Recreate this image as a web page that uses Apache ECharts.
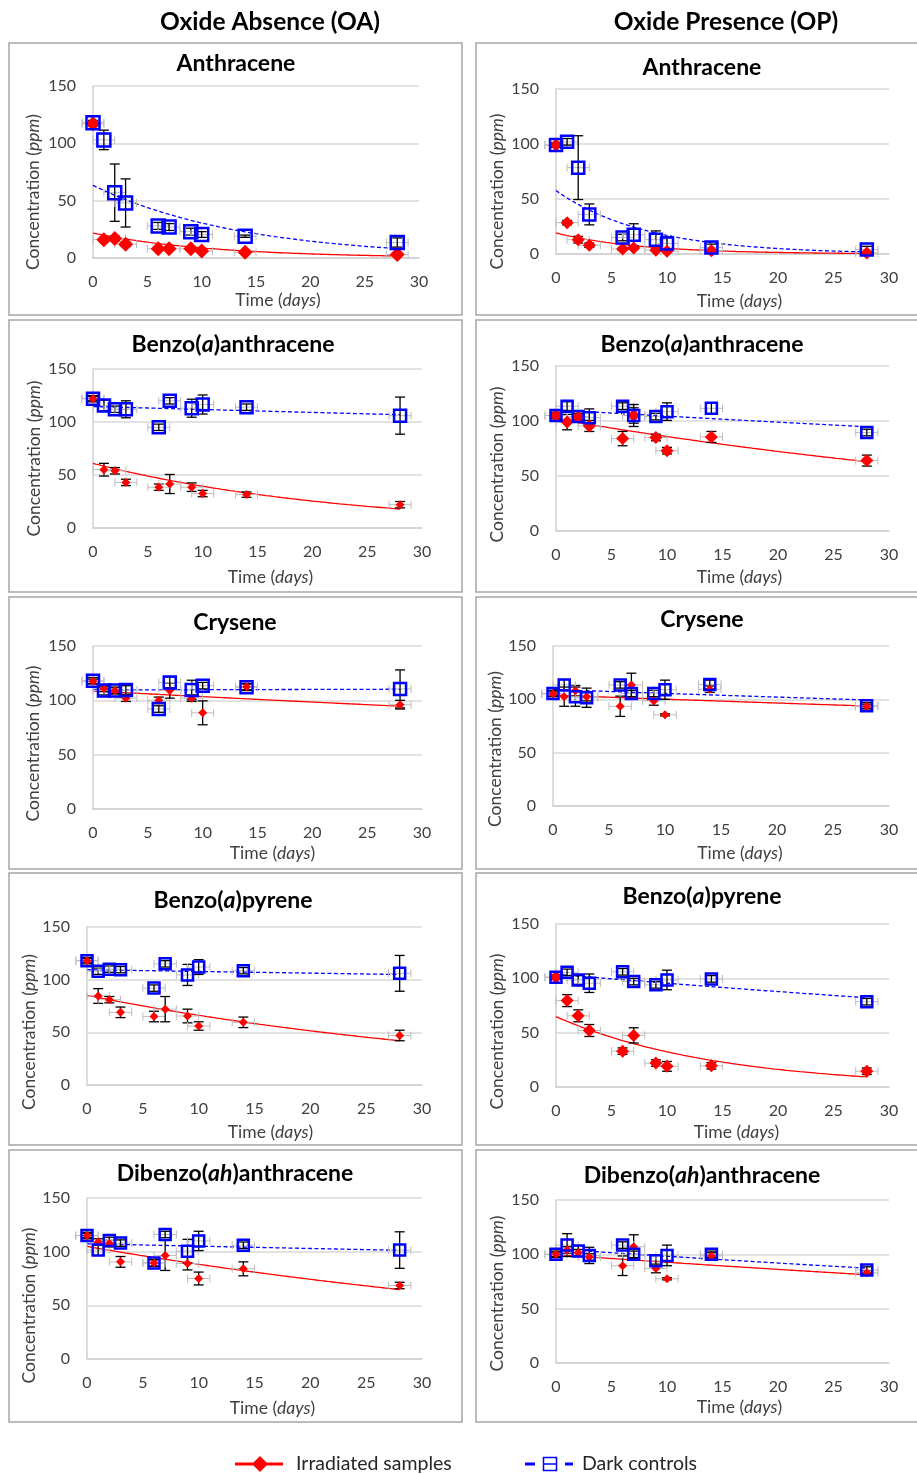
<!DOCTYPE html>
<html><head><meta charset="utf-8">
<script src="https://cdn.jsdelivr.net/npm/echarts@6/dist/echarts.min.js"></script>
<style>html,body{margin:0;padding:0;background:#fff}#c{width:917px;height:1474px}</style>
</head><body><div id="c"></div>
<script>
// ---------------- DATA ----------------
const days = [0, 1, 2, 3, 6, 7, 9, 10, 14, 28];
const timeErr = 1; // horizontal (time) error bar, days
const columnTitles = ['Oxide Absence (OA)', 'Oxide Presence (OP)'];
const compoundTitles = ['Anthracene', 'Benzo({i|a})anthracene', 'Crysene', 'Benzo({i|a})pyrene', 'Dibenzo({i|ah})anthracene'];
const legendLabels = ['Irradiated samples', 'Dark controls'];
const xTickRange = [0, 30, 5];
const yTickRange = [0, 150, 50];

// OA = oxide absence, OP = oxide presence
const oaAnthIrr = [117, 16, 17, 12, 8, 8, 8, 6, 5, 3];
const oaAnthIrrErr = [2, 2, 2, 2, 1, 1, 1, 1, 1, 1];
const oaAnthDark = [118, 103, 57, 48, 28, 27, 23, 20.5, 19, 13.5];
const oaAnthDarkErr = [2, 8.5, 25, 21, 3, 3, 3, 2.5, 1, 4];

const opAnthIrr = [99, 28.5, 13, 8, 4.5, 5.5, 3.5, 2.5, 3, 1];
const opAnthIrrErr = [2, 2, 3, 2, 1, 1, 1, 1, 1, 1];
const opAnthDark = [99, 102, 78.5, 36, 15, 17.5, 13, 9.5, 6, 4];
const opAnthDarkErr = [2, 3, 29, 9.5, 3, 10, 8, 6, 3, 3];

const oaBaaIrr = [122, 55, 54, 43, 38.5, 41.5, 38.5, 32.5, 31.5, 22];
const oaBaaIrrErr = [2, 6, 3, 3, 3, 9, 4, 3, 2.5, 3];
const oaBaaDark = [122, 115.5, 112, 112, 95, 120, 113, 116.5, 114, 106];
const oaBaaDarkErr = [3, 5, 3, 8, 3, 3, 8.5, 9, 3, 17.5];

const opBaaIrr = [105, 99, 103.5, 95.5, 84, 105, 85, 73, 85.5, 64];
const opBaaIrrErr = [3, 7, 3, 5, 6.5, 7, 3, 3, 5, 5];
const opBaaDark = [105, 113.5, 104, 103, 113.5, 105, 104, 108.5, 111.5, 89.5];
const opBaaDarkErr = [2, 4, 3, 8, 3, 10, 3, 8, 5, 3];

const oaCryIrr = [117.5, 111, 109, 102, 100, 109, 102, 88.5, 112.5, 96];
const oaCryIrrErr = [2, 3, 3, 3, 3, 7, 3, 11, 3, 4];
const oaCryDark = [118, 109, 109, 109.5, 92, 116.5, 109.5, 113.5, 112, 110.5];
const oaCryDarkErr = [3, 4, 3, 4, 3, 5, 9, 3, 3, 17.5];

const opCryIrr = [105, 102.5, 108, 102.5, 93.5, 113.5, 98.5, 85.5, 109.5, 93.5];
const opCryIrrErr = [2, 9, 5, 4, 9.5, 11, 4, 1, 3, 2];
const opCryDark = [105.5, 113.5, 102.5, 101.5, 113.5, 105.5, 105.5, 109, 114, 94];
const opCryDarkErr = [3, 5, 9, 9, 3, 3, 3, 9, 4, 3];

const oaBapIrr = [118, 84.5, 81, 69, 65, 72, 65.5, 56, 59.5, 47];
const oaBapIrrErr = [2, 7, 3, 5, 5, 12, 6.5, 4, 5, 5];
const oaBapDark = [118, 108, 110, 109.5, 92, 115, 104.5, 112, 108.5, 106];
const oaBapDarkErr = [3, 3, 3, 3, 3, 3, 10, 7, 3, 17];

const opBapIrr = [101, 79.5, 65.5, 52, 33, 47.5, 22, 19, 19.5, 14.5];
const opBapIrrErr = [2, 5.5, 5.5, 5.5, 3, 7, 3, 4.5, 3, 3];
const opBapDark = [101, 105.5, 98.5, 95.5, 106, 97, 94, 98.5, 99.5, 78.5];
const opBapDarkErr = [2, 3, 4, 8.5, 3, 3, 3, 9, 3, 3];

const oaDbaIrr = [115, 109, 107.5, 90.5, 89.5, 96.5, 89, 75, 84, 68.5];
const oaDbaIrrErr = [2, 3, 3, 5, 3, 14, 6, 6, 6.5, 3];
const oaDbaDark = [115, 101.5, 110.5, 108, 89.5, 116, 100.5, 110, 106, 101.5];
const oaDbaDarkErr = [3, 5, 3, 3, 3, 3, 11, 9, 3, 17];

const opDbaIrr = [100, 104, 101.5, 97.5, 89.5, 107, 87, 77.5, 98.5, 83];
const opDbaIrrErr = [2, 3, 3, 3, 9, 11, 4, 1, 3, 2];
const opDbaDark = [100, 108.5, 103, 99, 108.5, 100, 94, 99, 100, 85.5];
const opDbaDarkErr = [3, 10.5, 5, 7.5, 3, 3, 5, 9.5, 3, 3];

// panels in reading order (row by row, OA then OP)
const panelData = [
  [oaAnthIrr, oaAnthIrrErr, oaAnthDark, oaAnthDarkErr, 0],
  [opAnthIrr, opAnthIrrErr, opAnthDark, opAnthDarkErr, 0],
  [oaBaaIrr, oaBaaIrrErr, oaBaaDark, oaBaaDarkErr, 1],
  [opBaaIrr, opBaaIrrErr, opBaaDark, opBaaDarkErr, 1],
  [oaCryIrr, oaCryIrrErr, oaCryDark, oaCryDarkErr, 2],
  [opCryIrr, opCryIrrErr, opCryDark, opCryDarkErr, 2],
  [oaBapIrr, oaBapIrrErr, oaBapDark, oaBapDarkErr, 3],
  [opBapIrr, opBapIrrErr, opBapDark, opBapDarkErr, 3],
  [oaDbaIrr, oaDbaIrrErr, oaDbaDark, oaDbaDarkErr, 4],
  [opDbaIrr, opDbaIrrErr, opDbaDark, opDbaDarkErr, 4]
];

// ---------------- LAYOUT ----------------
const FONT = 'Lato, "Open Sans", "Noto Sans", sans-serif';
const TXT = '#404040';
const NAME_FS = 17.5;
const TITLE_FS = 23;
// l,t,r,b grid; tx,ty title centre; xg xName gap; xs xName shift; yg yName gap; ys yName shift; rs red size; bs blue size
const layout = [
  {l:93, t:86, r:419, b:258, tx:236, ty:64, xg:33, xs:22, yg:51, ys:20, rs:15, bs:13},
  {l:556, t:89, r:889, b:254, tx:702, ty:68, xg:38, xs:17, yg:50, ys:20, rs:13, bs:12},
  {l:93, t:369, r:422, b:528, tx:233, ty:345, xg:40, xs:13, yg:50, ys:10, rs:9, bs:12},
  {l:556, t:366, r:889, b:531, tx:702, ty:345, xg:37, xs:17, yg:50, ys:16, rs:13, bs:11},
  {l:93, t:646, r:422, b:809, tx:235, ty:623, xg:35, xs:15, yg:51, ys:16, rs:9, bs:12},
  {l:553, t:646, r:889, b:806, tx:702, ty:620, xg:38, xs:19, yg:49, ys:23, rs:9, bs:11},
  {l:87, t:927, r:422, b:1085, tx:233, ty:901, xg:38, xs:16, yg:48, ys:26, rs:9, bs:11},
  {l:556, t:924, r:889, b:1087, tx:702, ty:897, xg:36, xs:14, yg:50, ys:26, rs:13, bs:11},
  {l:87, t:1198, r:422, b:1359, tx:235, ty:1174, xg:40, xs:18, yg:49, ys:27, rs:9, bs:11},
  {l:556, t:1200, r:889, b:1363, tx:702, ty:1176, xg:35, xs:17, yg:50, ys:12, rs:9, bs:11}
];
const boxCols = [[9, 453], [476, 450]];
const boxRows = [43, 320, 597, 873, 1150];
const boxH = 272;

// Excel-style exponential trendline: least squares of ln(y) on x
function expFit(xs, ys) {
  const n = xs.length;
  const ly = ys.map(v => Math.log(v));
  const mx = xs.reduce((s, v) => s + v, 0) / n;
  const my = ly.reduce((s, v) => s + v, 0) / n;
  let sxy = 0, sxx = 0;
  for (let i = 0; i < n; i++) { sxy += (xs[i] - mx) * (ly[i] - my); sxx += (xs[i] - mx) ** 2; }
  const b = sxy / sxx;
  const a = Math.exp(my - b * mx);
  const pts = [];
  const x0 = Math.min(...xs), x1 = Math.max(...xs);
  for (let x = x0; x <= x1 + 1e-9; x += 0.25) pts.push([x, a * Math.exp(b * x)]);
  return pts;
}

function errRender(params, api) {
  const x = api.value(0), y = api.value(1), e = api.value(2), h = api.value(3);
  const c = api.coord([x, y]);
  const tp = api.coord([x, y + e]);
  const bt = api.coord([x, y - e]);
  const lf = api.coord([x - h, y]);
  const rt = api.coord([x + h, y]);
  const hs = {stroke: '#bdbdbd', lineWidth: 1};
  const vs = {stroke: '#000000', lineWidth: 1.3};
  const hc = 4, vc = 5;
  return {type: 'group', children: [
    {type: 'line', shape: {x1: lf[0], y1: c[1], x2: rt[0], y2: c[1]}, style: hs},
    {type: 'line', shape: {x1: lf[0], y1: c[1] - hc, x2: lf[0], y2: c[1] + hc}, style: hs},
    {type: 'line', shape: {x1: rt[0], y1: c[1] - hc, x2: rt[0], y2: c[1] + hc}, style: hs},
    {type: 'line', shape: {x1: c[0], y1: tp[1], x2: c[0], y2: bt[1]}, style: vs},
    {type: 'line', shape: {x1: c[0] - vc, y1: tp[1], x2: c[0] + vc, y2: tp[1]}, style: vs},
    {type: 'line', shape: {x1: c[0] - vc, y1: bt[1], x2: c[0] + vc, y2: bt[1]}, style: vs}
  ]};
}

const grids = [], xAxes = [], yAxes = [], series = [], titles = [], graphics = [];

titles.push({text: columnTitles[0], left: 270, top: 8, textAlign: 'center', padding: 0,
  textStyle: {fontFamily: FONT, fontSize: 24.5, fontWeight: 'bold', color: '#000', lineHeight: 28}});
titles.push({text: columnTitles[1], left: 726, top: 8, textAlign: 'center', padding: 0,
  textStyle: {fontFamily: FONT, fontSize: 24.5, fontWeight: 'bold', color: '#000', lineHeight: 28}});

boxRows.forEach(y => boxCols.forEach(([x, w]) => {
  graphics.push({type: 'rect', shape: {x: x, y: y, width: w, height: boxH},
    style: {fill: 'none', stroke: '#a6a6a6', lineWidth: 1.5}, silent: true});
}));

panelData.forEach((pd, i) => {
  const [irr, irrErr, dark, darkErr, ti] = pd;
  const L = layout[i];
  grids.push({left: L.l, top: L.t, width: L.r - L.l, height: L.b - L.t, containLabel: false});
  titles.push({text: compoundTitles[ti], left: L.tx, top: L.ty - 14, textAlign: 'center', padding: 0,
    textStyle: {fontFamily: FONT, fontSize: TITLE_FS, fontWeight: 'bold', color: '#000', lineHeight: 28,
      rich: {i: {fontFamily: FONT, fontSize: TITLE_FS, fontWeight: 'bold', fontStyle: 'italic', color: '#000', lineHeight: 28}}}});
  xAxes.push({type: 'value', gridIndex: i, min: xTickRange[0], max: xTickRange[1], interval: xTickRange[2],
    name: 'Time ({i|days})', nameLocation: 'middle', nameGap: L.xg,
    nameTextStyle: {fontFamily: FONT, fontSize: NAME_FS, color: TXT, padding: [0, 0, 0, 2 * L.xs],
      rich: {i: {fontFamily: FONT, fontSize: NAME_FS, fontStyle: 'italic', color: TXT}}},
    axisLine: {show: true, lineStyle: {color: '#d0d0d0', width: 1.5}},
    axisTick: {show: false}, splitLine: {show: false},
    axisLabel: {fontFamily: FONT, fontSize: 16, color: TXT, margin: 16}});
  yAxes.push({type: 'value', gridIndex: i, min: yTickRange[0], max: yTickRange[1], interval: yTickRange[2],
    name: 'Concentration ({i|ppm})', nameLocation: 'middle', nameRotate: 90, nameGap: L.yg,
    nameTextStyle: {fontFamily: FONT, fontSize: NAME_FS, color: TXT, padding: [0, 2 * L.ys, 0, 0],
      rich: {i: {fontFamily: FONT, fontSize: NAME_FS, fontStyle: 'italic', color: TXT}}},
    axisLine: {show: true, lineStyle: {color: '#d0d0d0', width: 1.5}},
    axisTick: {show: false},
    splitLine: {show: true, lineStyle: {color: '#d9d9d9', width: 1.5}},
    axisLabel: {fontFamily: FONT, fontSize: 16, color: TXT, margin: 17}});

  series.push({type: 'line', xAxisIndex: i, yAxisIndex: i, data: expFit(days, irr), showSymbol: false,
    lineStyle: {color: '#ff0000', width: 1.3}, z: 2, silent: true, animation: false});
  series.push({type: 'line', xAxisIndex: i, yAxisIndex: i, data: expFit(days, dark), showSymbol: false,
    lineStyle: {color: '#0000ff', width: 1.3, type: [4, 2.5]}, z: 2, silent: true, animation: false});
  series.push({type: 'custom', xAxisIndex: i, yAxisIndex: i, renderItem: errRender, z: 3, silent: true,
    data: days.map((d, k) => [d, irr[k], irrErr[k], timeErr])});
  series.push({type: 'custom', xAxisIndex: i, yAxisIndex: i, renderItem: errRender, z: 3, silent: true,
    data: days.map((d, k) => [d, dark[k], darkErr[k], timeErr])});
  series.push({type: 'scatter', xAxisIndex: i, yAxisIndex: i, symbol: 'diamond', symbolSize: L.rs,
    itemStyle: {color: '#ff0000', opacity: 1}, z: 4, silent: true,
    data: days.map((d, k) => [d, irr[k]])});
  series.push({type: 'scatter', xAxisIndex: i, yAxisIndex: i, symbol: 'rect', symbolSize: L.bs,
    itemStyle: {color: 'rgba(0,0,0,0)', borderColor: '#0000ff', borderWidth: 2.5, opacity: 1}, z: 5, silent: true,
    data: days.map((d, k) => [d, dark[k]])});
});

// legend
const LY = 1464;
graphics.push(
  {type: 'line', shape: {x1: 235, y1: LY, x2: 283, y2: LY}, style: {stroke: '#ff0000', lineWidth: 3}},
  {type: 'polygon', shape: {points: [[260, LY - 8], [268, LY], [260, LY + 8], [252, LY]]}, style: {fill: '#ff0000'}},
  {type: 'text', x: 296, y: LY, style: {text: legendLabels[0], fontFamily: FONT, fontSize: 19.5, fill: '#262626', verticalAlign: 'middle'}},
  {type: 'line', shape: {x1: 525, y1: LY, x2: 535, y2: LY}, style: {stroke: '#0000ff', lineWidth: 3}},
  {type: 'rect', shape: {x: 543.5, y: LY - 6.5, width: 13, height: 13}, style: {fill: 'none', stroke: '#0000ff', lineWidth: 1.5}},
  {type: 'line', shape: {x1: 543.5, y1: LY, x2: 556.5, y2: LY}, style: {stroke: '#0000ff', lineWidth: 1.5}},
  {type: 'line', shape: {x1: 565, y1: LY, x2: 573, y2: LY}, style: {stroke: '#0000ff', lineWidth: 3}},
  {type: 'text', x: 582, y: LY, style: {text: legendLabels[1], fontFamily: FONT, fontSize: 19.5, fill: '#262626', verticalAlign: 'middle'}}
);

const chart = echarts.init(document.getElementById('c'), null, {renderer: 'canvas'});
chart.setOption({
  animation: false,
  backgroundColor: '#ffffff',
  title: titles,
  grid: grids,
  xAxis: xAxes,
  yAxis: yAxes,
  series: series,
  graphic: graphics
});
</script>
</body></html>
